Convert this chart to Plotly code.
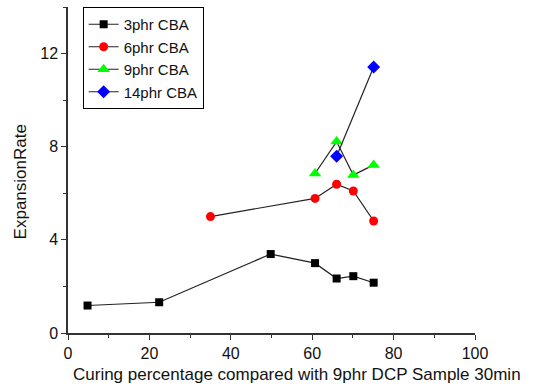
import plotly.graph_objects as go

x3 = [4.8, 22.4, 49.8, 60.7, 66.0, 70.1, 75.1]
y3 = [1.18, 1.32, 3.39, 3.0, 2.34, 2.44, 2.16]
x6 = [35.0, 60.7, 66.0, 70.1, 75.1]
y6 = [5.0, 5.78, 6.39, 6.1, 4.81]
x9 = [60.7, 66.0, 70.1, 75.1]
y9 = [6.85, 8.22, 6.78, 7.22]
x14 = [66.0, 75.1]
y14 = [7.59, 11.42]

names = ["3phr CBA", "6phr CBA", "9phr CBA", "14phr CBA"]
colors = ["black", "red", "#00ff00", "blue"]
symbols = ["square", "circle", "triangle-up", "diamond"]
sizes = [8, 9, 11, 10]

FONT = "Liberation Sans, Arial"

fig = go.Figure()
for xs, ys, n, c, s, sz in zip([x3, x6, x9, x14], [y3, y6, y9, y14], names, colors, symbols, sizes):
    fig.add_trace(go.Scatter(
        x=xs, y=ys, name=n, mode="lines+markers",
        line=dict(color="#222222", width=1.2),
        marker=dict(color=c, symbol=s, size=sz, line=dict(width=0)),
    ))

axis_common = dict(
    showgrid=False, zeroline=False, showline=True, linecolor="#333333", linewidth=1.5,
    ticks="outside", ticklen=5, tickwidth=1.2, tickcolor="#333333",
    tickfont=dict(family=FONT, size=16, color="#111"),
    mirror=False,
)
fig.update_xaxes(range=[0, 100], dtick=20, tick0=0,
                 minor=dict(ticks="outside", ticklen=3, dtick=10, tickcolor="#333333"),
                 **axis_common)
fig.update_yaxes(range=[0, 14], dtick=4, tick0=0,
                 minor=dict(ticks="outside", ticklen=3, dtick=2, tickcolor="#333333"),
                 **axis_common)

fig.add_annotation(text="Curing percentage compared with 9phr DCP Sample 30min",
                   xref="paper", yref="paper", x=0.5627, y=-0.126,
                   xanchor="center", yanchor="middle", showarrow=False,
                   font=dict(family=FONT, size=17, color="#111"))
fig.add_annotation(text="ExpansionRate", textangle=-90,
                   xref="paper", yref="paper", x=-0.118, y=0.465,
                   xanchor="center", yanchor="middle", showarrow=False,
                   font=dict(family=FONT, size=17, color="#111"))

fig.update_layout(
    width=539, height=391,
    margin=dict(l=68, r=64, t=7, b=58),
    plot_bgcolor="white", paper_bgcolor="white",
    legend=dict(x=0.036, y=1.0, xanchor="left", yanchor="top",
                bordercolor="black", borderwidth=1, bgcolor="white",
                font=dict(family=FONT, size=15, color="#111"),
                tracegroupgap=0),
)
fig.write_html("out.html")
